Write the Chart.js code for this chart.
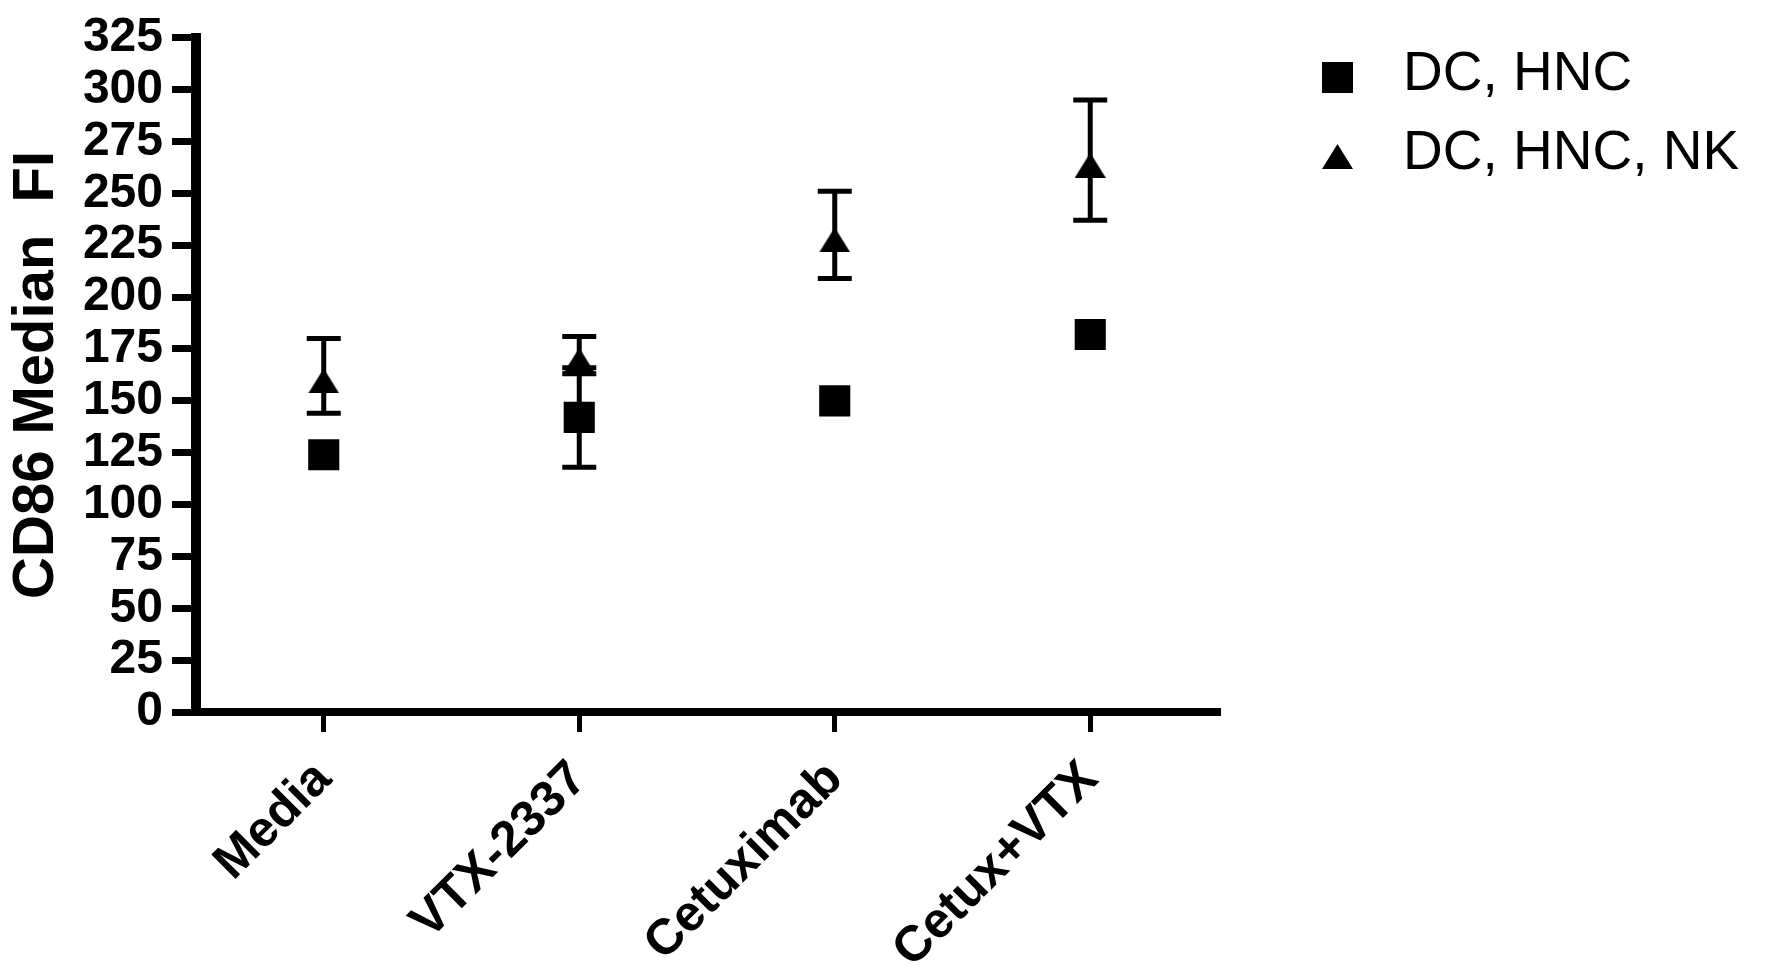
<!DOCTYPE html>
<html>
<head>
<meta charset="utf-8">
<script src="https://cdn.jsdelivr.net/npm/chart.js@4.4.1/dist/chart.umd.min.js"></script>
<style>
  html, body { margin: 0; padding: 0; background: #fff; }
</style>
</head>
<body>
<canvas id="cd86Chart" width="1766" height="973"></canvas>
<script>
// data (mean +/- error)
const treatments = ['Media', 'VTX-2337', 'Cetuximab', 'Cetux+VTX'];
const seriesNames = ['DC, HNC', 'DC, HNC, NK'];
const dcHnc = [124, 142, 150, 182];
const dcHncErr = [0, 24, 0, 0];
const dcHncNk = [162, 172, 230, 266];
const dcHncNkErr = [18, 9, 21, 29];
const yMin = 0, yMax = 325, yStep = 25;

const FONT = '"Liberation Sans", Arial, sans-serif';

// prism style triangle marker, sits a little below its anchor
function makeTriangle(w, h, drop) {
  const c = document.createElement('canvas');
  c.width = w;
  c.height = h + drop;
  const g = c.getContext('2d');
  g.fillStyle = '#000';
  g.beginPath();
  g.moveTo(w / 2, drop);
  g.lineTo(w, h + drop);
  g.lineTo(0, h + drop);
  g.closePath();
  g.fill();
  return c;
}
const triangleMarker = makeTriangle(31, 25, 10);

const errorBars = {
  id: 'errorBars',
  afterDatasetsDraw(chart) {
    const { ctx, scales: { y } } = chart;
    ctx.save();
    ctx.strokeStyle = '#000';
    ctx.lineWidth = 5;
    chart.data.datasets.forEach((ds, i) => {
      const meta = chart.getDatasetMeta(i);
      ds.data.forEach((v, j) => {
        const err = ds.errors[j];
        if (!err) return;
        const px = meta.data[j].x;
        const top = y.getPixelForValue(v + err);
        const bot = y.getPixelForValue(v - err);
        ctx.beginPath();
        ctx.moveTo(px, top); ctx.lineTo(px, bot);
        ctx.moveTo(px - 17, top); ctx.lineTo(px + 17, top);
        ctx.moveTo(px - 17, bot); ctx.lineTo(px + 17, bot);
        ctx.stroke();
      });
    });
    ctx.restore();
  }
};

// legend on the right, drawn from the datasets
const sideLegend = {
  id: 'sideLegend',
  afterDraw(chart) {
    const ctx = chart.ctx;
    ctx.save();
    ctx.fillStyle = '#000';
    ctx.font = '55px ' + FONT;
    ctx.textBaseline = 'middle';
    const rows = [77, 156];
    chart.data.datasets.forEach((ds, i) => {
      const cy = rows[i];
      if (ds.pointStyle === 'rect') {
        ctx.fillRect(1322, cy - 15, 31, 31);
      } else {
        ctx.drawImage(ds.pointStyle, 1322, cy - 22);
      }
      ctx.fillText(ds.label, 1403, cy - 2);
    });
    ctx.restore();
  }
};

const ctx = document.getElementById('cd86Chart').getContext('2d');

new Chart(ctx, {
  type: 'line',
  data: {
    labels: treatments,
    datasets: [
      {
        label: seriesNames[0],
        data: dcHnc,
        errors: dcHncErr,
        showLine: false,
        pointStyle: 'rect',
        pointRadius: 22,
        pointBackgroundColor: '#000',
        pointBorderColor: '#000',
        pointBorderWidth: 0
      },
      {
        label: seriesNames[1],
        data: dcHncNk,
        errors: dcHncNkErr,
        showLine: false,
        pointStyle: triangleMarker,
        pointRadius: 15,
        pointBackgroundColor: '#000',
        pointBorderColor: '#000'
      }
    ]
  },
  options: {
    responsive: false,
    animation: false,
    layout: { padding: { top: 30, right: 548, left: 0, bottom: 0 } },
    plugins: {
      legend: { display: false },
      tooltip: { enabled: false }
    },
    scales: {
      x: {
        offset: true,
        afterFit: s => { s.height = 261; },
        border: { display: true, color: '#000', width: 8 },
        grid: {
          drawOnChartArea: false,
          drawTicks: true,
          tickLength: 20,
          tickWidth: 5,
          tickColor: '#000',
          color: '#000',
          lineWidth: 5
        },
        ticks: {
          color: '#000',
          autoSkip: false,
          minRotation: 45,
          maxRotation: 45,
          padding: 18,
          font: { family: FONT, size: 50, weight: 'bold' }
        }
      },
      y: {
        min: yMin,
        max: yMax,
        afterFit: s => { s.width = 196; },
        border: { display: true, color: '#000', width: 10 },
        grid: {
          drawOnChartArea: false,
          drawTicks: true,
          tickLength: 24,
          tickWidth: 7,
          tickColor: '#000',
          color: '#000',
          lineWidth: 7
        },
        ticks: {
          stepSize: yStep,
          autoSkip: false,
          color: '#000',
          padding: 9,
          font: { family: FONT, size: 48, weight: 'bold' }
        },
        title: {
          display: true,
          text: 'CD86 Median  FI',
          color: '#000',
          padding: { top: 2, bottom: 0 },
          font: { family: FONT, size: 58, weight: 'bold' }
        }
      }
    }
  },
  plugins: [errorBars, sideLegend]
});
</script>
</body>
</html>
